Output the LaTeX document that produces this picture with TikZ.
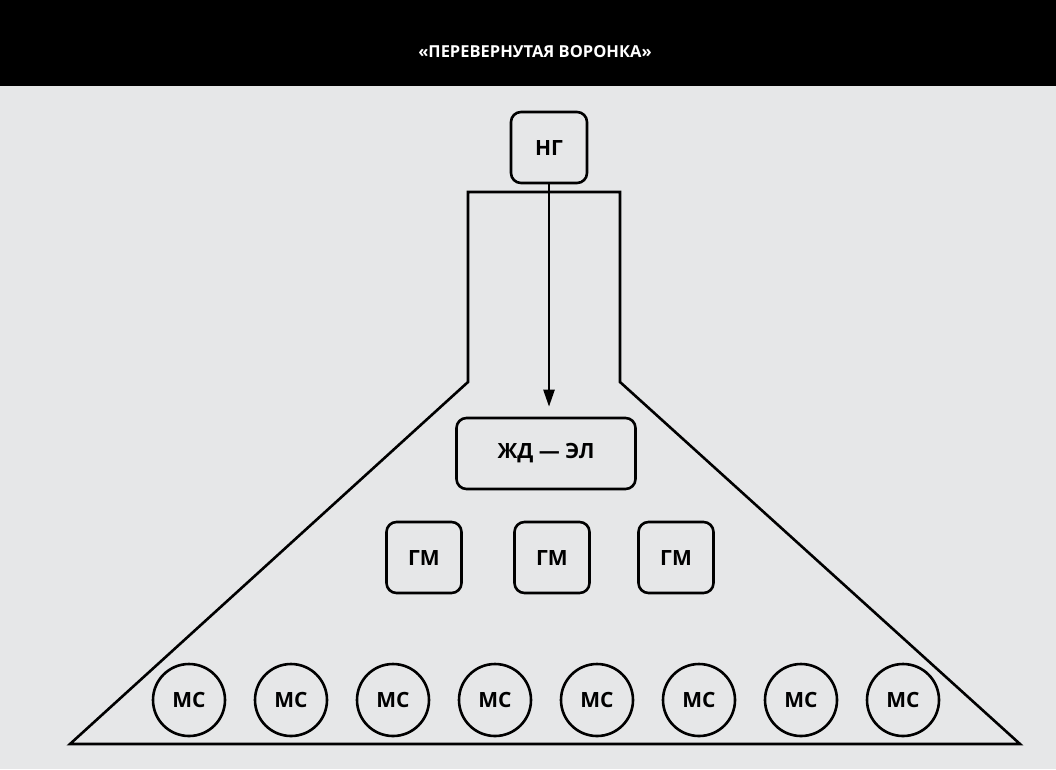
\documentclass[tikz,border=0pt]{standalone}
\usepackage{fontspec}
\setmainfont{Open Sans}
\usetikzlibrary{arrows.meta}
\definecolor{fonseryj}{HTML}{E6E7E8}
\tikzset{
  blok/.style={draw, line width=2.6pt, rounded corners=10pt, minimum height=71pt, inner sep=0pt, font=\bfseries\fontsize{21}{25}\selectfont},
  krug/.style={draw, circle, line width=2.6pt, minimum size=72pt, inner sep=0pt, font=\bfseries\fontsize{21}{25}\selectfont}
}
\begin{document}
\begin{tikzpicture}
[x=1pt, y=-1pt]
\fill[fonseryj] (0,0) rectangle (1056,769);
\fill[black] (0,0) rectangle (1056,86);
\node[white, font=\bfseries\fontsize{16.5}{19}\selectfont] (zagolovok) at (535,52) {«ПЕРЕВЕРНУТАЯ ВОРОНКА»};
\draw[line width=2.6pt, line join=miter] (468,382) -- (468,192) -- (620,192) -- (620,382) -- (1020,744) -- (70,744) -- cycle;
\node[blok, minimum width=76pt] (ng) at (549,147.5) {НГ};
\node[blok, minimum width=179pt] (zhdel) at (546,453.5) {ЖД — ЭЛ};
\foreach \x [count=\i] in {424,552,676}
  \node[blok, minimum width=75pt] (gm\i) at (\x,557.5) {ГМ};
\foreach \i in {1,...,8}
  \node[krug] (ms\i) at (87+102*\i,700) {МС};
\draw[line width=2.4pt, -{Triangle[length=17pt,width=11pt]}, shorten >=10pt] (ng.south) -- (ng.south |- zhdel.north);
\end{tikzpicture}
\end{document}
